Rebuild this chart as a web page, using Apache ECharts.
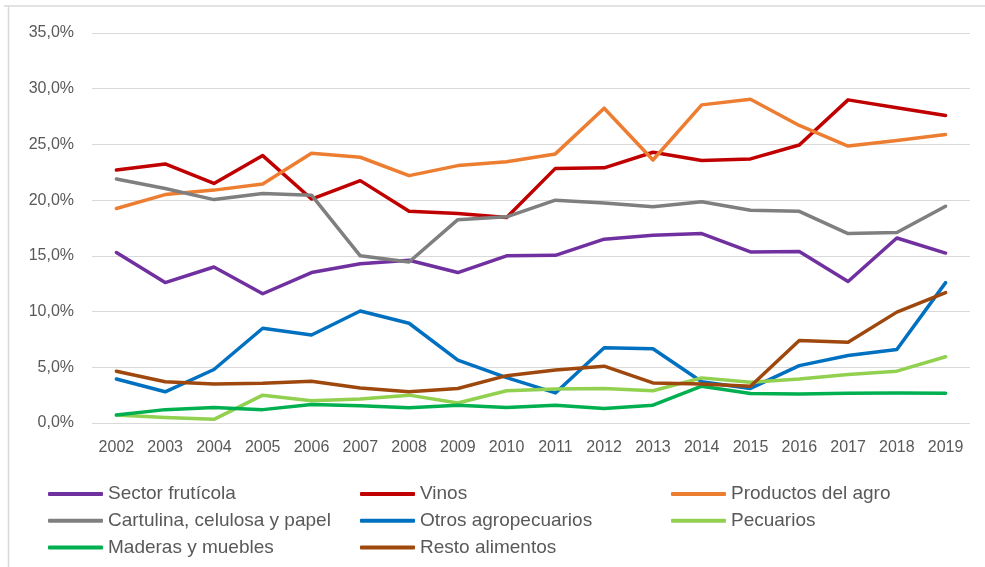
<!DOCTYPE html>
<html>
<head>
<meta charset="utf-8">
<script src="https://cdn.jsdelivr.net/npm/echarts@6/dist/echarts.min.js"></script>
<style>
html,body{margin:0;padding:0;background:#fff;}
#chart{width:985px;height:567px;}
</style>
</head>
<body>
<div id="chart"></div>
<script>
const years = ['2002','2003','2004','2005','2006','2007','2008','2009','2010','2011','2012','2013','2014','2015','2016','2017','2018','2019'];
const yTicks = [0, 5, 10, 15, 20, 25, 30, 35];

const sectorFruticola = [15.3, 12.6, 14.0, 11.6, 13.5, 14.3, 14.6, 13.5, 15.0, 15.05, 16.5, 16.85, 17.0, 15.35, 15.4, 12.7, 16.6, 15.25];
const vinos = [22.7, 23.25, 21.5, 24.0, 20.1, 21.75, 19.0, 18.8, 18.45, 22.85, 22.9, 24.3, 23.55, 23.7, 24.95, 29.0, 28.3, 27.6];
const productosAgro = [19.25, 20.5, 20.9, 21.45, 24.2, 23.85, 22.2, 23.1, 23.45, 24.15, 28.25, 23.6, 28.55, 29.05, 26.7, 24.85, 25.35, 25.9];
const cartulina = [21.9, 21.05, 20.05, 20.6, 20.45, 15.0, 14.45, 18.25, 18.5, 20.0, 19.75, 19.4, 19.85, 19.1, 19.0, 17.0, 17.1, 19.45];
const otrosAgro = [3.95, 2.8, 4.8, 8.5, 7.9, 10.05, 8.95, 5.65, 4.07, 2.7, 6.75, 6.67, 3.7, 3.1, 5.15, 6.05, 6.6, 12.6];
const pecuarios = [0.72, 0.5, 0.33, 2.5, 2.0, 2.15, 2.5, 1.8, 2.9, 3.05, 3.1, 2.9, 4.05, 3.65, 3.95, 4.35, 4.65, 5.95];
const maderas = [0.72, 1.2, 1.4, 1.2, 1.65, 1.55, 1.37, 1.6, 1.4, 1.6, 1.3, 1.6, 3.3, 2.65, 2.6, 2.67, 2.7, 2.67];
const restoAlimentos = [4.65, 3.7, 3.5, 3.56, 3.75, 3.15, 2.8, 3.1, 4.25, 4.75, 5.1, 3.6, 3.5, 3.3, 7.4, 7.25, 9.95, 11.7];

const seriesNames = ['Sector frutícola', 'Vinos', 'Productos del agro', 'Cartulina, celulosa y papel', 'Otros agropecuarios', 'Pecuarios', 'Maderas y muebles', 'Resto alimentos'];
const seriesData = [sectorFruticola, vinos, productosAgro, cartulina, otrosAgro, pecuarios, maderas, restoAlimentos];
const seriesColors = ['#7030A0', '#C00000', '#ED7D31', '#7F7F7F', '#0070C0', '#92D050', '#00B050', '#9E480E'];

const chart = echarts.init(document.getElementById('chart'), null, {renderer: 'canvas'});

// legend layout: 3 columns, 3 rows
const legendCols = [
  {left: 48, names: [0, 3, 6]},
  {left: 360, names: [1, 4, 7]},
  {left: 671, names: [2, 5]}
];

const legends = legendCols.map(c => ({
  left: c.left, top: 484, orient: 'vertical', padding: 0, itemGap: 6.8,
  itemWidth: 55, itemHeight: 4, icon: 'roundRect', selectedMode: false,
  textStyle: {fontSize: 19, lineHeight: 20, color: '#595959', fontFamily: '"Liberation Sans", Arial, sans-serif'},
  data: c.names.map(i => seriesNames[i])
}));

chart.setOption({
  backgroundColor: '#fff',
  animation: false,
  grid: {left: 92, right: 15, top: 33, bottom: 144},
  xAxis: {
    type: 'category', data: years, boundaryGap: true,
    axisLine: {show: false}, axisTick: {show: false},
    axisLabel: {color: '#595959', fontFamily: '"Liberation Sans", Arial, sans-serif', fontSize: 16, margin: 17}
  },
  yAxis: {
    type: 'value', min: 0, max: 35, interval: 5,
    axisLine: {show: false}, axisTick: {show: false},
    splitLine: {lineStyle: {color: '#D9D9D9', width: 1}},
    axisLabel: {color: '#595959', fontFamily: '"Liberation Sans", Arial, sans-serif', fontSize: 16, margin: 18,
      formatter: v => v.toFixed(1).replace('.', ',') + '%'}
  },
  legend: legends,
  graphic: [
    {type: 'line', shape: {x1: 4, y1: 6, x2: 985, y2: 6}, style: {stroke: '#D9D9D9', lineWidth: 1.5}},
    {type: 'line', shape: {x1: 8.5, y1: 6, x2: 8.5, y2: 567}, style: {stroke: '#D9D9D9', lineWidth: 1.5}}
  ],
  series: seriesNames.map((name, i) => ({
    name: name, type: 'line', data: seriesData[i], symbol: 'none',
    itemStyle: {color: seriesColors[i]},
    lineStyle: {color: seriesColors[i], width: 3.5, cap: 'round', join: 'round'}
  }))
});
</script>
</body>
</html>
